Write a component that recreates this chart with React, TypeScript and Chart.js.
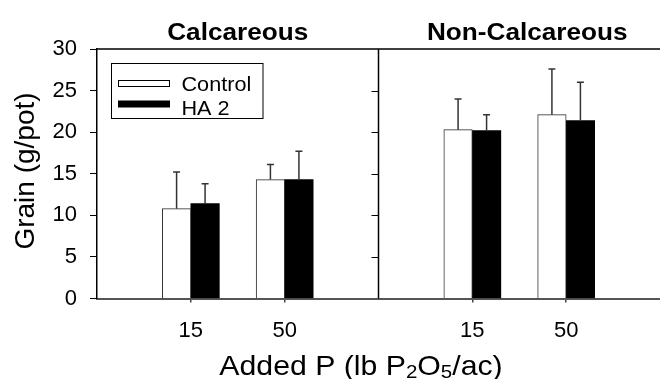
import React, { useEffect, useRef } from 'react';
import { Chart, registerables } from 'chart.js';

Chart.register(...registerables);

const FONT = '"Liberation Sans", Arial, Helvetica, sans-serif';

const panelTitles = ['Calcareous', 'Non-Calcareous'];
const doses = ['15', '50'];
const seriesNames = ['Control', 'HA 2'];
// values in order: Calcareous 15, Calcareous 50, Non-Calcareous 15, Non-Calcareous 50
const controlValues = [10.8, 14.3, 20.3, 22.1];
const controlErrors = [4.4, 1.8, 3.7, 5.5];
const ha2Values = [11.4, 14.3, 20.2, 21.4];
const ha2Errors = [2.4, 3.4, 1.9, 4.6];
const yMin = 0;
const yMax = 30;
const yStep = 5;
const yTitle = 'Grain (g/pot)';

// category labels: blank boundary, doses, blank boundary, doses, blank boundary
const labels: string[] = [];
panelTitles.forEach(() => {
  labels.push('');
  doses.forEach((d) => labels.push(d));
});
labels.push('');

function spread(values: number[]): (number | null)[] {
  const out: (number | null)[] = labels.map(() => null);
  let k = 0;
  panelTitles.forEach((_, p) => {
    doses.forEach((_, d) => {
      out[p * (doses.length + 1) + 1 + d] = values[k++];
    });
  });
  return out;
}

const controlData = spread(controlValues);
const ha2Data = spread(ha2Values);
const errorData = [spread(controlErrors), spread(ha2Errors)];

function drawText(
  ctx: CanvasRenderingContext2D,
  s: string,
  x: number,
  y: number,
  font: string,
  align: 'left' | 'center' | 'right',
  sx = 1
) {
  ctx.save();
  ctx.font = font;
  ctx.textBaseline = 'alphabetic';
  ctx.textAlign = 'left';
  const w = ctx.measureText(s).width * sx;
  const left = align === 'center' ? x - w / 2 : align === 'right' ? x - w : x;
  ctx.translate(left, y);
  ctx.scale(sx, 1);
  ctx.fillStyle = '#000';
  ctx.fillText(s, 0, 0);
  ctx.restore();
  return w;
}

const overlayPlugin = {
  id: 'overlay',
  afterDatasetsDraw(chart: any) {
    const ctx: CanvasRenderingContext2D = chart.ctx;
    const y = chart.scales.y;
    ctx.save();
    ctx.strokeStyle = '#333';
    ctx.lineWidth = 1.5;
    chart.data.datasets.forEach((ds: any, di: number) => {
      const meta = chart.getDatasetMeta(di);
      meta.data.forEach((el: any, i: number) => {
        const v = ds.data[i];
        const e = errorData[di][i];
        if (v == null || e == null) return;
        const top = y.getPixelForValue(v + e);
        ctx.beginPath();
        ctx.moveTo(el.x, el.y);
        ctx.lineTo(el.x, top);
        ctx.moveTo(el.x - 3.5, top);
        ctx.lineTo(el.x + 3.5, top);
        ctx.stroke();
      });
    });
    ctx.restore();
  },
  afterDraw(chart: any) {
    const ctx: CanvasRenderingContext2D = chart.ctx;
    const { left, right, top, bottom } = chart.chartArea;
    const x = chart.scales.x;
    const y = chart.scales.y;
    ctx.save();
    // top frame line
    ctx.strokeStyle = '#000';
    ctx.lineWidth = 1.5;
    ctx.beginPath();
    ctx.moveTo(left, top);
    ctx.lineTo(right, top);
    ctx.stroke();
    // panel divider with ticks
    const divX = x.getPixelForValue(doses.length + 1);
    ctx.beginPath();
    ctx.moveTo(divX, top);
    ctx.lineTo(divX, bottom);
    ctx.stroke();
    ctx.lineWidth = 1;
    for (let v = yMin + yStep; v < yMax; v += yStep) {
      const py = Math.round(y.getPixelForValue(v)) + 0.5;
      ctx.beginPath();
      ctx.moveTo(divX - 7, py);
      ctx.lineTo(divX, py);
      ctx.stroke();
    }
    // panel titles
    const titleFont = `bold 24px ${FONT}`;
    const leftCenter = (left + divX) / 2;
    const rightCenter = (divX + right) / 2 + 8;
    drawText(ctx, panelTitles[0], leftCenter, 39.5, titleFont, 'center', 1.09);
    drawText(ctx, panelTitles[1], rightCenter, 39.5, titleFont, 'center', 1.09);

    // legend
    ctx.strokeStyle = '#000';
    ctx.lineWidth = 1;
    ctx.strokeRect(111.5, 63.5, 151.5, 55);
    ctx.fillStyle = '#fff';
    ctx.fillRect(118.5, 80.5, 51, 6);
    ctx.strokeRect(118.5, 80.5, 51, 6);
    ctx.fillStyle = '#000';
    ctx.fillRect(118, 100.5, 52, 7);
    const legFont = `21px ${FONT}`;
    drawText(ctx, seriesNames[0], 181.5, 90.5, legFont, 'left', 1.03);
    drawText(ctx, seriesNames[1], 181.5, 114.5, legFont, 'left', 1.03);

    // y title
    ctx.save();
    ctx.translate(26, 171);
    ctx.rotate(-Math.PI / 2);
    ctx.font = `28px ${FONT}`;
    ctx.fillStyle = '#000';
    ctx.textAlign = 'center';
    ctx.textBaseline = 'middle';
    ctx.fillText(yTitle, 0, 0);
    ctx.restore();

    // x title with subscripts
    const main = `28px ${FONT}`;
    const sub = `19px ${FONT}`;
    const sx = 1.08;
    const parts: [string, boolean][] = [
      ['Added P (lb P', false],
      ['2', true],
      ['O', false],
      ['5', true],
      ['/ac)', false],
    ];
    let total = 0;
    parts.forEach(([s, isSub]) => {
      ctx.font = isSub ? sub : main;
      total += ctx.measureText(s).width * sx;
    });
    let cx = 361 - total / 2;
    parts.forEach(([s, isSub]) => {
      cx += drawText(ctx, s, cx, isSub ? 378 : 375, isSub ? sub : main, 'left', sx);
    });
    ctx.restore();
  },
};

export default function App() {
  const ref = useRef<HTMLCanvasElement | null>(null);
  useEffect(() => {
    document.body.style.margin = '0';
    const canvas = ref.current;
    if (!canvas) return;
    const chart = new Chart(canvas, {
      type: 'bar',
      data: {
        labels,
        datasets: [
          {
            label: seriesNames[0],
            data: controlData,
            backgroundColor: '#fff',
            borderColor: '#333',
            borderWidth: 1,
            borderSkipped: 'start',
            barThickness: 28.5,
          },
          {
            label: seriesNames[1],
            data: ha2Data,
            backgroundColor: '#000',
            borderColor: '#000',
            borderWidth: 0,
            barThickness: 28.5,
          },
        ],
      },
      options: {
        responsive: false,
        animation: false,
        events: [],
        layout: { padding: { top: 49, left: 0, right: 0, bottom: 0 } },
        plugins: {
          legend: { display: false },
          tooltip: { enabled: false },
          title: { display: false },
        },
        scales: {
          x: {
            type: 'category',
            offset: false,
            grid: {
              display: true,
              offset: false,
              drawOnChartArea: false,
              tickLength: 4,
              lineWidth: 1.5,
              color: (c: any) => (c.tick && c.tick.label ? '#444' : 'rgba(0,0,0,0)'),
            },
            border: { display: true, color: '#555', width: 2 },
            ticks: {
              autoSkip: false,
              maxRotation: 0,
              color: '#000',
              padding: 15,
              font: { size: 22, family: FONT },
            },
            afterFit: (s: any) => {
              s.height = 80.5;
              s.paddingLeft = 0;
              s.paddingRight = 0;
            },
          },
          y: {
            min: yMin,
            max: yMax,
            ticks: {
              stepSize: yStep,
              color: '#000',
              padding: 13,
              font: { size: 22, family: FONT },
            },
            grid: {
              display: true,
              drawOnChartArea: false,
              tickLength: 7,
              color: '#000',
              lineWidth: 1,
            },
            border: { display: true, color: '#000', width: 1.5 },
            afterFit: (s: any) => {
              s.width = 97;
              s.paddingTop = 0;
              s.paddingBottom = 0;
            },
          },
        },
      },
      plugins: [overlayPlugin],
    } as any);
    return () => chart.destroy();
  }, []);
  return (
    <div style={{ width: 660, height: 379 }}>
      <canvas ref={ref} width={660} height={379} />
    </div>
  );
}
